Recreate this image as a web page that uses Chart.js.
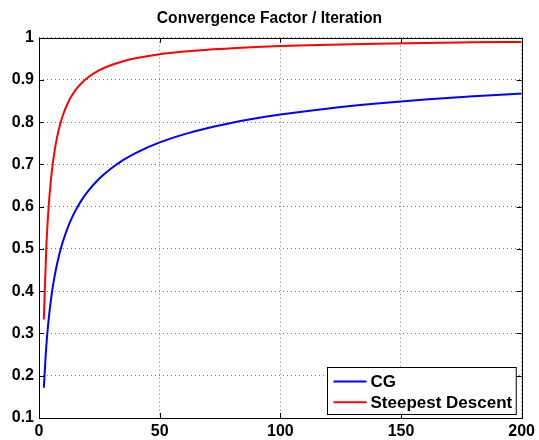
<!DOCTYPE html>
<html>
<head>
<meta charset="utf-8">
<script src="https://cdn.jsdelivr.net/npm/chart.js@4"></script>
<style>
  html, body { margin: 0; padding: 0; background: #fff; }
  #wrap { width: 539px; height: 440px; }
</style>
</head>
<body>
<div id="wrap"><canvas id="chart" width="539" height="440"></canvas></div>
<script>
// --- Data ---
const iterations = [2, 3, 4, 5, 6, 7, 8, 9, 10, 12, 14, 16, 18, 20, 25, 30, 35, 40, 50, 60, 70, 80, 90, 100, 120, 140, 160, 180, 200];
const cgValues = [0.1716, 0.2679, 0.3333, 0.382, 0.4202, 0.4514, 0.4776, 0.5, 0.5195, 0.552, 0.5782, 0.6, 0.6185, 0.6345, 0.6667, 0.6912, 0.7108, 0.727, 0.7522, 0.7713, 0.7865, 0.7989, 0.8093, 0.8182, 0.8327, 0.8441, 0.8535, 0.8613, 0.8679];
const sdValues = [0.3333, 0.5, 0.6, 0.6667, 0.7143, 0.75, 0.7778, 0.8, 0.8182, 0.8462, 0.8667, 0.8824, 0.8947, 0.9048, 0.9231, 0.9355, 0.9444, 0.9512, 0.9608, 0.9672, 0.9718, 0.9753, 0.978, 0.9802, 0.9835, 0.9858, 0.9876, 0.989, 0.99];
const xTicks = [0, 50, 100, 150, 200];
const yTicks = [0.1, 0.2, 0.3, 0.4, 0.5, 0.6, 0.7, 0.8, 0.9, 1];
const yTickLabels = ['0.1', '0.2', '0.3', '0.4', '0.5', '0.6', '0.7', '0.8', '0.9', '1'];

const FONT = 'Liberation Sans, Arial, Helvetica, sans-serif';

const toPoints = (ys) => iterations.map((x, i) => ({ x: x, y: ys[i] }));

// box round the axes, with inward ticks on all four sides
const frame = {
    id: 'frame',
    afterDatasetsDraw(chart) {
        const { ctx, chartArea: a, scales } = chart;
        ctx.save();
        ctx.strokeStyle = '#000';
        ctx.lineWidth = 1;
        ctx.beginPath();
        xTicks.forEach(v => {
            const px = Math.round(scales.x.getPixelForValue(v)) + 0.5;
            ctx.moveTo(px, a.bottom); ctx.lineTo(px, a.bottom - 5);
            ctx.moveTo(px, a.top); ctx.lineTo(px, a.top + 5);
        });
        yTicks.forEach(v => {
            const py = Math.round(scales.y.getPixelForValue(v)) + 0.5;
            ctx.moveTo(a.left, py); ctx.lineTo(a.left + 5, py);
            ctx.moveTo(a.right, py); ctx.lineTo(a.right - 5, py);
        });
        ctx.stroke();
        ctx.strokeRect(Math.round(a.left) + 0.5, Math.round(a.top) + 0.5,
            Math.round(a.right - a.left), Math.round(a.bottom - a.top));
        ctx.restore();
    }
};

// legend drawn inside the axes, bottom right
const insideLegend = {
    id: 'insideLegend',
    afterDraw(chart) {
        const { ctx, chartArea: a } = chart;
        const sets = chart.data.datasets;
        ctx.save();
        ctx.font = 'bold 17px ' + FONT;
        const textW = Math.max(...sets.map(d => ctx.measureText(d.label).width));
        const w = 6 + 33 + 4 + textW + 4;
        const h = 47;
        const x0 = Math.round(a.right - 5.5 - w) + 0.5;
        const y0 = Math.round(a.bottom - 4 - h) + 0.5;
        ctx.fillStyle = '#fff';
        ctx.fillRect(x0, y0, w, h);
        ctx.strokeStyle = '#000';
        ctx.lineWidth = 1;
        ctx.strokeRect(x0, y0, w, h);
        sets.forEach((d, i) => {
            const cy = y0 + 14 + i * 20.7;
            ctx.strokeStyle = d.borderColor;
            ctx.lineWidth = 2;
            ctx.beginPath();
            ctx.moveTo(x0 + 6, cy); ctx.lineTo(x0 + 39, cy);
            ctx.stroke();
            ctx.fillStyle = '#000';
            ctx.textBaseline = 'middle';
            ctx.fillText(d.label, x0 + 43, cy + 1);
        });
        ctx.restore();
    }
};

new Chart(document.getElementById('chart'), {
    type: 'line',
    data: {
        datasets: [
            { label: 'CG', data: toPoints(cgValues), borderColor: '#0000ff' },
            { label: 'Steepest Descent', data: toPoints(sdValues), borderColor: '#ff0000' }
        ]
    },
    options: {
        responsive: false,
        animation: false,
        devicePixelRatio: 1,
        layout: { padding: 0 },
        elements: {
            point: { radius: 0 },
            line: { borderWidth: 2, cubicInterpolationMode: 'monotone', fill: false }
        },
        plugins: {
            legend: { display: false },
            tooltip: { enabled: false },
            title: {
                display: true,
                text: 'Convergence Factor / Iteration',
                color: '#000',
                font: { family: FONT, size: 15.6, weight: 'bold' },
                padding: { top: 9, bottom: 10 }
            }
        },
        scales: {
            x: {
                type: 'linear',
                min: 0, max: 200,
                afterBuildTicks: s => { s.ticks = xTicks.map(v => ({ value: v })); },
                afterFit: s => { s.height = 22; },
                ticks: {
                    color: '#000',
                    padding: 4,
                    maxRotation: 0,
                    font: { family: FONT, size: 16, weight: 'bold' }
                },
                grid: { color: '#777', drawTicks: false },
                border: { display: false, dash: [1, 3] }
            },
            y: {
                type: 'linear',
                min: 0.1, max: 1,
                afterBuildTicks: s => { s.ticks = yTicks.map(v => ({ value: v })); },
                afterFit: s => { s.width = 39; },
                ticks: {
                    color: '#000',
                    padding: 5,
                    font: { family: FONT, size: 16, weight: 'bold' },
                    callback: (v) => {
                        const i = yTicks.findIndex(t => Math.abs(t - v) < 1e-9);
                        return i >= 0 ? yTickLabels[i] : '';
                    }
                },
                grid: { color: '#777', drawTicks: false },
                border: { display: false, dash: [1, 3] }
            },
            // empty right-hand axis, only to keep the margin on that side
            yRight: {
                type: 'linear',
                position: 'right',
                min: 0.1, max: 1,
                afterFit: s => { s.width = 16.5; },
                ticks: { display: false },
                grid: { display: false },
                border: { display: false }
            }
        }
    },
    plugins: [frame, insideLegend]
});
</script>
</body>
</html>
